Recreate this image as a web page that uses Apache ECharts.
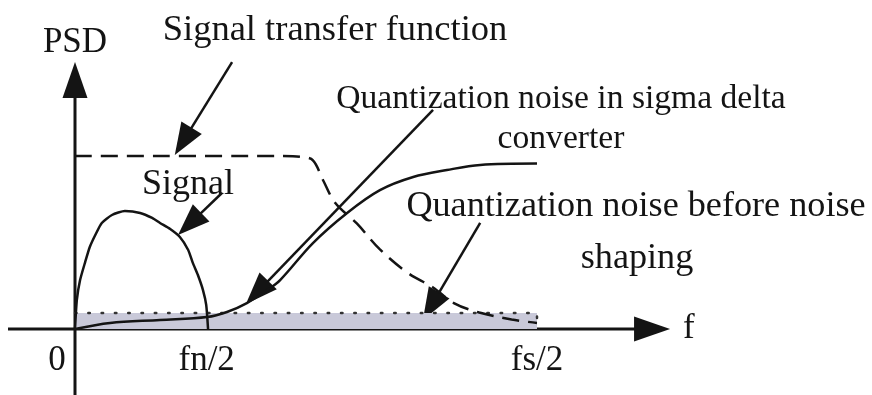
<!DOCTYPE html>
<html>
<head>
<meta charset="utf-8">
<script src="https://cdn.jsdelivr.net/npm/echarts@6/dist/echarts.min.js"></script>
<style>
  html, body { margin: 0; padding: 0; background: #fff; }
  #chart { width: 872px; height: 395px; }
</style>
</head>
<body>
<div id="chart"></div>
<script>
// frequency axis: 0 .. fs/2 = 10, PSD axis: signal transfer plateau = 10
const tickValues = [0, 2.85, 10];
const tickLabels = ['0', 'fn/2', 'fs/2'];

const stfCurve = [[0, 10], [4.5, 10], [4.9, 9.95], [5.15, 9.75], [5.37, 8.6], [5.63, 7.3],
  [6.1, 6.1], [6.6, 4.6], [7.2, 3.25], [7.75, 2.4], [8.2, 1.5], [8.75, 0.95], [9.45, 0.55], [10, 0.35]];
const signalCurve = [[0, 0], [0.04, 1.68], [0.11, 2.83], [0.22, 3.87], [0.32, 4.74], [0.45, 5.49],
  [0.58, 6.13], [0.8, 6.59], [1.08, 6.82], [1.41, 6.71], [1.67, 6.42], [1.84, 6.13], [2.06, 5.78],
  [2.27, 5.32], [2.45, 4.57], [2.55, 3.82], [2.66, 3.12], [2.77, 2.25], [2.84, 1.39], [2.88, 0]];
const sdNoiseCurve = [[0, 0], [0.76, 0.35], [1.84, 0.52], [2.86, 0.69], [3.29, 0.98], [3.72, 1.5],
  [4.16, 2.25], [4.44, 2.83], [5.15, 4.97], [5.89, 6.71], [6.6, 8.03], [7.32, 8.79], [8.05, 9.19],
  [8.77, 9.48], [10, 9.56]];
const flatNoise = [[0, 0.92], [10, 0.92], [10, 0]];

// [x from, y from, x to, y to]
const axisArrows = [[-1.45, 0, 12.88, 0], [0, -4, 0, 15.43]];
const pointerArrows = [
  [3.4, 15.43, 2.16, 10.06],
  [3.18, 7.86, 2.23, 5.43],
  [7.75, 12.66, 3.7, 1.45],
  [8.77, 6.13, 7.53, 0.52],
];

const notes = [
  { text: 'Signal transfer function', x: 335, y: 37, size: 36.5 },
  { text: 'Quantization noise in sigma delta', x: 561, y: 105, size: 33.6 },
  { text: 'converter', x: 561, y: 145, size: 33.6 },
  { text: 'Signal', x: 188, y: 191, size: 36 },
  { text: 'Quantization noise before noise', x: 636, y: 213, size: 36.2 },
  { text: 'shaping', x: 637, y: 265, size: 36.2 },
];

const FONT = '"Liberation Serif", "Times New Roman", serif';
const INK = '#141414';

const arrowSeries = (data, head, width) => ({
  type: 'custom',
  coordinateSystem: 'cartesian2d',
  clip: false,
  silent: true,
  data,
  renderItem: (params, api) => {
    const a = api.coord([api.value(0), api.value(1)]);
    const b = api.coord([api.value(2), api.value(3)]);
    const dx = b[0] - a[0], dy = b[1] - a[1];
    const len = Math.hypot(dx, dy);
    const ux = dx / len, uy = dy / len;
    const bx = b[0] - ux * head.len, by = b[1] - uy * head.len;
    const nx = -uy * head.w / 2, ny = ux * head.w / 2;
    return {
      type: 'group',
      children: [
        { type: 'line', shape: { x1: a[0], y1: a[1], x2: bx + ux * 2, y2: by + uy * 2 },
          style: { stroke: INK, lineWidth: width } },
        { type: 'polygon', shape: { points: [[b[0], b[1]], [bx + nx, by + ny], [bx - nx, by - ny]] },
          style: { fill: INK } },
      ],
    };
  },
});

const curve = (data, extra) => Object.assign({
  type: 'line',
  data,
  smooth: 0.35,
  symbol: 'none',
  clip: false,
  silent: true,
  lineStyle: { color: INK, width: 2.5 },
}, extra);

const chart = echarts.init(document.getElementById('chart'));
chart.setOption({
  animation: false,
  backgroundColor: '#fff',
  grid: { left: 75, right: 335, top: 156, bottom: 66 },
  xAxis: {
    type: 'value', min: 0, max: 10,
    axisLine: { show: false }, axisTick: { show: false }, splitLine: { show: false },
    axisLabel: {
      customValues: tickValues,
      margin: 14,
      color: INK, fontFamily: FONT, fontSize: 35, lineHeight: 35,
      formatter: (v) => {
        const s = tickLabels[tickValues.indexOf(v)];
        return v === 0 ? '{z|' + s + '}' : s;
      },
      rich: { z: { padding: [0, 36, 0, 0], color: INK, fontFamily: FONT, fontSize: 35, lineHeight: 35 } },
    },
    name: 'f', nameLocation: 'end', nameGap: 146,
    nameTextStyle: { color: INK, fontFamily: FONT, fontSize: 35 },
  },
  yAxis: {
    type: 'value', min: 0, max: 10,
    axisLine: { show: false }, axisTick: { show: false }, splitLine: { show: false },
    axisLabel: { show: false },
    name: 'PSD', nameLocation: 'end', nameGap: 96,
    nameTextStyle: { color: INK, fontFamily: FONT, fontSize: 35, align: 'center' },
  },
  series: [
    curve(flatNoise, {
      smooth: false,
      lineStyle: { color: '#333', width: 2.5, type: [1.5, 11.8], cap: 'round' },
      areaStyle: { color: '#c9c9d9', opacity: 1 },
    }),
    curve(stfCurve, { lineStyle: { color: INK, width: 2.5, type: [17, 9] } }),
    curve(signalCurve, { smooth: 0.2 }),
    curve(sdNoiseCurve),
    arrowSeries(axisArrows, { len: 36, w: 25 }, 3),
    arrowSeries(pointerArrows, { len: 32, w: 24 }, 2.5),
  ],
  graphic: notes.map((n) => ({
    type: 'text',
    x: n.x,
    y: n.y - 0.17 * n.size,
    style: {
      text: n.text, fill: INK, font: n.size + 'px ' + FONT,
      align: 'center', verticalAlign: 'middle',
    },
  })),
});
</script>
</body>
</html>
